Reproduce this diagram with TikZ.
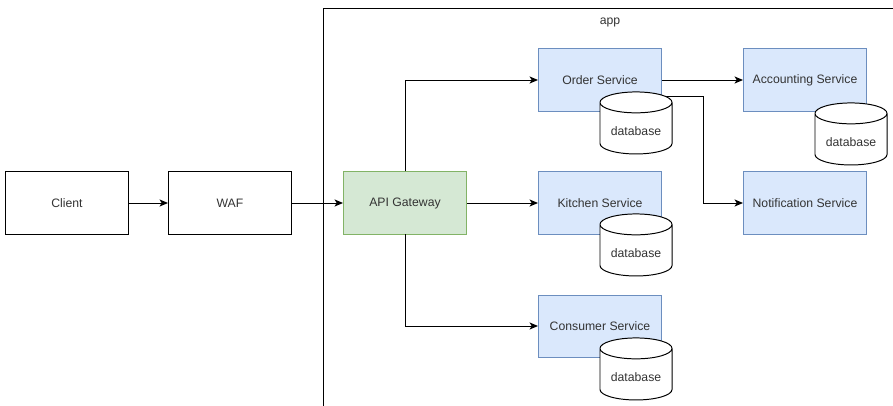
\documentclass[tikz,border=0pt]{standalone}
\usepackage{fontspec}
\setmainfont{Liberation Sans}
\usetikzlibrary{shapes.geometric, arrows.meta}
\definecolor{svcfill}{HTML}{DAE8FC}
\definecolor{svcline}{HTML}{6C8EBF}
\definecolor{gwfill}{HTML}{D5E8D4}
\definecolor{gwline}{HTML}{82B366}
\definecolor{txt}{HTML}{333333}
\tikzstyle{plain} = [rectangle, 
minimum width=3.075cm, 
minimum height=1.55cm,
text centered, 
draw=black, 
fill=white]
\tikzstyle{gateway} = [rectangle, 
minimum width=3.075cm, 
minimum height=1.55cm,
text centered, 
draw=gwline, 
fill=gwfill]
\tikzstyle{service} = [rectangle, 
minimum width=3.075cm, 
minimum height=1.55cm, 
text centered, 
draw=svcline, 
fill=svcfill]
\tikzstyle{db} = [cylinder, 
shape border rotate=90, 
aspect=0.35,
minimum width=1.8cm, 
minimum height=1.55cm, 
text centered, 
draw=black, fill=white]
\tikzstyle{arrow} = [line width=0.7pt,-{Stealth[length=6pt,width=5pt,inset=1.5pt]}]

\begin{document}
\begin{tikzpicture}[x=0.025cm, y=-0.025cm, line width=0.7pt,
  every node/.style={font=\fontsize{8.7}{10}\selectfont, text=txt}]
\useasboundingbox (0,0) rectangle (893,406);

% app container, open at the right and bottom
\draw (323,406) -- (323,8) -- (893,8);
\node (app) at (610,22) {app};

\node (client) [plain] at (67,203) {Client};
\node (waf) [plain] at (230,203) {WAF};
\node (gw) [gateway] at (405,203) {API Gateway};

\node (order) [service] at (600,80) {Order Service};
\node (kitchen) [service] at (600,203) {Kitchen Service};
\node (consumer) [service] at (600,326) {Consumer Service};
\node (accounting) [service] at (805,80) {Accounting Service};
\node (notif) [service] at (805,203) {Notification Service};

\coordinate (bend) at (703,150);

\draw [arrow] (client) -- (waf);
\draw [arrow] (waf) -- (gw);
\draw [arrow] (gw.north) |- (order.west);
\draw [arrow] (gw) -- (kitchen);
\draw [arrow] (gw.south) |- (consumer.west);
\draw [arrow] (order) -- (accounting);
\draw [arrow] ([yshift=-0.4cm]order.east) -| (bend) |- (notif.west);

% databases sit on top of the service boxes
\node (orderdb) [db] at (636,131) {database};
\node (accountingdb) [db] at (851,142) {database};
\node (kitchendb) [db] at (636,253) {database};
\node (consumerdb) [db] at (636,377) {database};

\end{tikzpicture}
\end{document}
